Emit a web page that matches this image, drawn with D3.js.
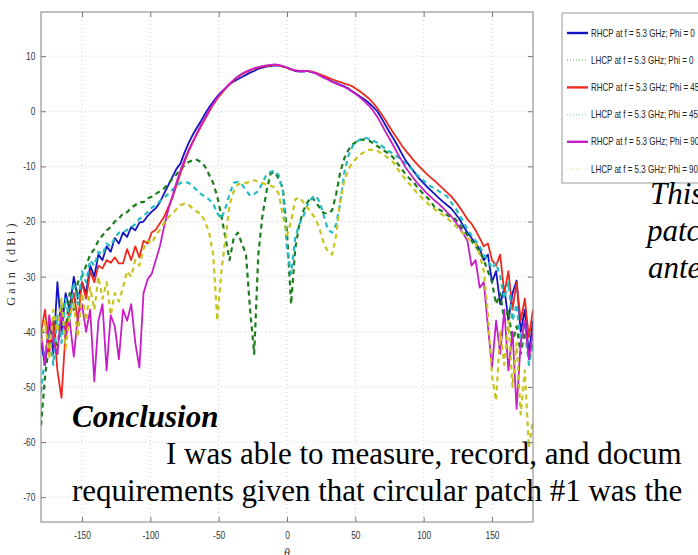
<!DOCTYPE html>
<html>
<head>
<meta charset="utf-8">
<script src="https://cdn.jsdelivr.net/npm/d3@7"></script>
<style>
  html, body { margin: 0; padding: 0; background: #fff; }
  svg { display: block; }
  .tick text { font-family: "Liberation Sans", Arial, sans-serif; font-size: 10.5px; fill: #333; }
  .doc { font-family: "Liberation Serif", "Times New Roman", serif; font-size: 31px; fill: #000; }
</style>
</head>
<body>
<svg id="chart" width="698" height="555"></svg>
<script>
// angle grid (deg), one sample every 3 degrees
const angles = [
  -180,-177,-174,-171,-168,-165,-162,-159,-156,-153,
  -150,-147,-144,-141,-138,-135,-132,-129,-126,-123,
  -120,-117,-114,-111,-108,-105,-102,-99,-96,-93,
  -90,-87,-84,-81,-78,-75,-72,-69,-66,-63,
  -60,-57,-54,-51,-48,-45,-42,-39,-36,-33,
  -30,-27,-24,-21,-18,-15,-12,-9,-6,-3,
  0,3,6,9,12,15,18,21,24,27,
  30,33,36,39,42,45,48,51,54,57,
  60,63,66,69,72,75,78,81,84,87,
  90,93,96,99,102,105,108,111,114,117,
  120,123,126,129,132,135,138,141,144,147,
  150,153,156,159,162,165,168,171,174,177,180
];

const rhcp0 = [
  -42,-46,-38,-44,-31,-40,-33,-36,-30,-34,
  -31,-33,-28,-30,-26,-27,-24.5,-25.5,-23,-24,
  -22,-22.8,-21,-21.6,-20.2,-20,-19,-18.2,-17.6,-16.5,
  -15,-13.5,-12,-10.5,-9.5,-7.5,-5.8,-4.3,-3,-1.8,
  -0.5,0.7,1.7,2.7,3.5,4.2,4.9,5.4,5.8,6.2,
  6.6,7,7.3,7.7,7.9,8.1,8.2,8.3,8.3,8.1,
  7.9,7.6,7.3,7.2,7.2,7.3,7.1,6.9,6.5,6.1,
  5.8,5.4,5.1,4.8,4.5,4.1,3.6,3.1,2.6,2.1,
  1.5,0.8,0,-1.2,-2.5,-3.8,-5,-6.3,-7.7,-9,
  -10,-11,-12,-12.8,-13.6,-14.3,-15,-15.7,-16.4,-17,
  -17.6,-18.5,-19.5,-20.8,-22,-23,-24,-25,-27,-26,
  -31,-29,-35,-32,-38,-33,-30.7,-40,-36,-44,-38
];

const lhcp0 = [
  -57,-48,-42,-38,-44,-35,-40,-33,-36,-31,
  -30,-28,-26,-25,-23.5,-22.5,-21.6,-21,-20,-19.5,
  -18.5,-18.3,-17.5,-17,-16.5,-16.5,-15.8,-15.5,-15,-14.5,
  -14,-13.2,-12.3,-11.5,-10.5,-9.8,-9.2,-8.9,-8.8,-9.2,
  -10,-11.5,-13,-15.5,-19,-23,-27,-23,-22,-24,
  -26,-36,-44,-26,-19,-14.5,-11.3,-11,-12.3,-14,
  -22,-35,-25,-20.5,-18,-16.5,-15.5,-16.5,-17.5,-18.5,
  -18.5,-18,-15,-11,-8.5,-7,-6,-5.5,-5.2,-5.1,
  -5.3,-5.8,-6.3,-6.8,-7.3,-7.7,-8.5,-9.5,-10.5,-11.5,
  -12.3,-13,-14,-14.8,-15.5,-16.3,-17.4,-17.8,-18.2,-18.8,
  -19.3,-19.5,-20.5,-21.5,-22.5,-23.5,-24.5,-25.5,-27,-29,
  -31,-35,-33,-38,-36,-42,-39,-44,-40,-45,-42
];

const rhcp45 = [
  -40,-36,-44,-38,-47,-52,-40,-36,-33,-38,
  -31,-34,-29,-31,-28,-28.5,-27,-27.5,-26.5,-27.6,
  -27.6,-25,-27,-24.5,-26.5,-23.5,-24,-22,-21.5,-20.3,
  -19.2,-17.5,-15.8,-13.5,-11.3,-9.2,-7.3,-5.7,-4.2,-2.8,
  -1.4,-0.1,1.2,2.3,3.2,4.1,4.9,5.6,6.2,6.7,
  7.1,7.4,7.7,7.9,8.1,8.2,8.3,8.4,8.3,8.1,
  7.9,7.6,7.4,7.3,7.3,7.3,7.2,7,6.7,6.4,
  6.1,5.8,5.5,5.3,5,4.8,4.5,4,3.5,2.9,
  2.3,1.5,0.6,-0.5,-1.6,-2.8,-4,-5.1,-6.2,-7.2,
  -8.1,-9,-9.8,-10.6,-11.3,-12,-12.6,-13.3,-14,-14.7,
  -15.4,-16.3,-17.3,-18.4,-19.6,-20.4,-21.6,-23,-24.5,-24,
  -27,-28,-26,-33,-29,-36,-31,-38,-34,-41,-36
];

const lhcp45 = [
  -51,-44,-40,-46,-37,-42,-34,-38,-31,-35,
  -29,-31,-27,-28,-25.5,-26,-24,-24.5,-23,-22,
  -22,-21.5,-21,-20.5,-19.5,-19,-18.3,-17.5,-17,-16.3,
  -15.8,-15,-14.3,-13.6,-13,-12.8,-13,-13.6,-14.3,-15,
  -15.5,-16,-16.8,-18.5,-19.5,-17.5,-15,-13,-12.8,-13.3,
  -14.3,-15.3,-15,-14.5,-13,-11.5,-11,-10.8,-11.6,-14.5,
  -25,-29.5,-23,-20.5,-19,-17,-15.8,-15.3,-16.5,-19,
  -21.5,-22,-20.5,-16.5,-11,-8,-6.3,-5.5,-5,-4.8,
  -5,-5.3,-5.7,-6.2,-6.8,-7.3,-7.8,-8.3,-8.8,-9.5,
  -10.2,-11,-11.7,-12.4,-13,-13.6,-14,-14.5,-15,-15.4,
  -16.5,-17.5,-18.7,-20,-21.5,-22.5,-23.5,-24.5,-26,-27,
  -28.5,-27.5,-30,-34,-31,-38,-35,-42,-38,-46,-42
];

const rhcp90 = [
  -40,-46,-37,-42,-44,-36,-41,-38,-44.5,-37,
  -35,-40,-36,-49,-38,-35,-47,-37,-39,-45,
  -36,-38,-35,-42,-46.5,-33,-30.5,-29.5,-27,-24.5,
  -21,-18,-15.5,-13,-10.8,-8.8,-7,-5.5,-4,-2.5,
  -1.2,0.2,1.4,2.5,3.4,4.2,5,5.7,6.3,6.8,
  7.2,7.5,7.8,8,8.2,8.3,8.4,8.5,8.4,8.2,
  7.9,7.6,7.4,7.3,7.3,7.3,7.1,6.9,6.5,6.1,
  5.7,5.3,5,4.7,4.4,4,3.5,3,2.4,1.7,
  1,0.1,-1,-2.3,-3.7,-5,-6.3,-7.7,-9,-10.3,
  -11.3,-12.3,-13.2,-14,-14.8,-15.5,-16.2,-16.8,-17.5,-18.3,
  -19,-20,-21,-22.2,-23.5,-28,-27,-32,-31,-39,
  -46.5,-38,-44,-36,-47,-40,-54,-42,-38,-45,-40
];

const lhcp90 = [
  -42,-38,-45,-36,-40,-34,-43,-37,-35,-41,
  -33,-38,-32,-36,-30,-34,-31,-37,-33,-34.5,
  -32,-29,-30,-27,-28,-25,-23.5,-24,-22.5,-21.5,
  -20.3,-19.3,-18.5,-17.8,-17,-16.8,-17,-17.6,-18.2,-18.6,
  -20,-22,-26,-38,-29,-23,-17,-14.5,-13.3,-13,
  -13,-12.8,-12.5,-12.8,-13,-13.3,-13.5,-13.8,-15,-19,
  -22.5,-20,-16,-15.6,-16.5,-17.5,-18.5,-19.5,-21.5,-24,
  -25.5,-26,-22.5,-16,-12.5,-10.5,-9.3,-8.5,-7.8,-7.3,
  -7,-7,-7.2,-7.6,-8.1,-8.7,-9.3,-10.5,-11.5,-12.5,
  -13.3,-14.2,-15,-15.8,-16.5,-17.2,-17.8,-18.3,-18.8,-19.4,
  -20,-20.7,-21.4,-22.2,-23,-23.5,-24,-26,-29,-36.7,
  -48,-52.5,-40,-46,-38,-50,-42,-55,-47,-61,-56
];

const seriesNames = [
  'RHCP at f = 5.3 GHz; Phi = 0',
  'LHCP at f = 5.3 GHz; Phi = 0',
  'RHCP at f = 5.3 GHz; Phi = 45',
  'LHCP at f = 5.3 GHz; Phi = 45',
  'RHCP at f = 5.3 GHz; Phi = 90',
  'LHCP at f = 5.3 GHz; Phi = 90'
];
const seriesValues = [rhcp0, lhcp0, rhcp45, lhcp45, rhcp90, lhcp90];
const seriesColors = ['#1414c4', '#1b7d1b', '#ee2a1e', '#22bcc4', '#c81ec8', '#c8c41e'];

const xTicks = [-150, -100, -50, 0, 50, 100, 150];
const yTicks = [10, 0, -10, -20, -30, -40, -50, -60, -70];

const svg = d3.select('#chart');
const L = 41, R = 533, T = 12, B = 522;
const narrow = 0.8; // matlab's condensed helvetica look

const x = d3.scaleLinear().domain([-180, 180]).range([L, R]);
const y = d3.scaleLinear().domain([-74.5, 18]).range([B, T]);

// grid
const grid = svg.append('g').attr('stroke', '#cfcfcf').attr('stroke-dasharray', '1,3');
grid.selectAll('line.gx').data(xTicks).join('line')
  .attr('x1', d => x(d)).attr('x2', d => x(d)).attr('y1', T).attr('y2', B);
grid.selectAll('line.gy').data(yTicks).join('line')
  .attr('y1', d => y(d)).attr('y2', d => y(d)).attr('x1', L).attr('x2', R);

// curves
svg.append('clipPath').attr('id', 'plotclip')
  .append('rect').attr('x', L).attr('y', T).attr('width', R - L).attr('height', B - T);

const line = d3.line().x((d, i) => x(angles[i])).y(d => y(d));
const curves = svg.append('g').attr('clip-path', 'url(#plotclip)').attr('fill', 'none');
seriesValues.forEach((vals, k) => {
  const lhcp = k % 2 === 1;
  curves.append('path')
    .attr('d', line(vals))
    .attr('stroke', seriesColors[k])
    .attr('stroke-width', lhcp ? 2.2 : 1.8)
    .attr('stroke-dasharray', lhcp ? '5,4' : null)
    .attr('stroke-linejoin', 'round');
});

// axes, ticks point inward like matlab
const fmt = d => String(d);
const styleAxis = g => { g.select('.domain').remove(); g.selectAll('.tick line').attr('stroke', '#777'); };
svg.append('g').attr('transform', `translate(0,${B})`)
  .call(d3.axisBottom(x).tickValues(xTicks).tickSize(-5).tickPadding(10).tickFormat(fmt)).call(styleAxis)
  .selectAll('.tick text').attr('transform', `scale(${narrow},1)`);
svg.append('g').attr('transform', `translate(0,${T})`)
  .call(d3.axisTop(x).tickValues(xTicks).tickSize(-5).tickFormat('')).call(styleAxis);
svg.append('g').attr('transform', `translate(${L},0)`)
  .call(d3.axisLeft(y).tickValues(yTicks).tickSize(-5).tickPadding(7).tickFormat(fmt)).call(styleAxis)
  .selectAll('.tick text').attr('transform', `scale(${narrow},1)`);
svg.append('g').attr('transform', `translate(${R},0)`)
  .call(d3.axisRight(y).tickValues(yTicks).tickSize(-5).tickFormat('')).call(styleAxis);
svg.selectAll('.tick text').attr('fill', '#333');

svg.append('rect').attr('x', L).attr('y', T).attr('width', R - L).attr('height', B - T)
  .attr('fill', 'none').attr('stroke', '#808080');

svg.append('text')
  .attr('transform', `translate(15,${(T + B) / 2 - 4}) rotate(-90)`)
  .attr('text-anchor', 'middle')
  .attr('font-family', '"Liberation Serif", serif').attr('font-size', 12)
  .attr('letter-spacing', 3.4).attr('fill', '#333')
  .text('Gain (dBi)');
svg.append('text')
  .attr('x', x(0)).attr('y', 557).attr('text-anchor', 'middle')
  .attr('font-family', '"Liberation Serif", serif').attr('font-size', 12)
  .attr('font-style', 'italic').attr('fill', '#333')
  .text('θ');

// legend
const lg = svg.append('g');
lg.append('rect').attr('x', 562).attr('y', 13).attr('width', 160).attr('height', 170)
  .attr('fill', '#fff').attr('stroke', '#9a9a9a');
seriesNames.forEach((name, k) => {
  const ly = 33 + k * 27.2;
  const lhcp = k % 2 === 1;
  lg.append('line').attr('x1', 567).attr('x2', 588).attr('y1', ly).attr('y2', ly)
    .attr('stroke', seriesColors[k])
    .attr('stroke-width', lhcp ? 1.2 : 2.4)
    .attr('stroke-opacity', lhcp ? 0.55 : 1)
    .attr('stroke-dasharray', lhcp ? '1,2' : null);
  lg.append('text')
    .attr('transform', `translate(591,${ly}) scale(${narrow},1)`)
    .attr('dy', '0.35em')
    .attr('font-family', '"Liberation Sans", Arial, sans-serif')
    .attr('font-size', 10).attr('fill', '#222')
    .text(name);
});

// document text lying over the figure
const doc = svg.append('g');
doc.append('text').attr('class', 'doc').attr('x', 650).attr('y', 204).attr('font-style', 'italic').text('This');
doc.append('text').attr('class', 'doc').attr('x', 647).attr('y', 241).attr('font-style', 'italic').text('patc');
doc.append('text').attr('class', 'doc').attr('x', 648).attr('y', 278).attr('font-style', 'italic').text('ante');
doc.append('text').attr('class', 'doc').attr('x', 72).attr('y', 427)
  .attr('font-style', 'italic').attr('font-weight', 'bold').text('Conclusion');
doc.append('text').attr('class', 'doc').attr('x', 166).attr('y', 464).text('I was able to measure, record, and docum');
doc.append('text').attr('class', 'doc').attr('x', 72).attr('y', 501).text('requirements given that circular patch #1 was the');
</script>
</body>
</html>
